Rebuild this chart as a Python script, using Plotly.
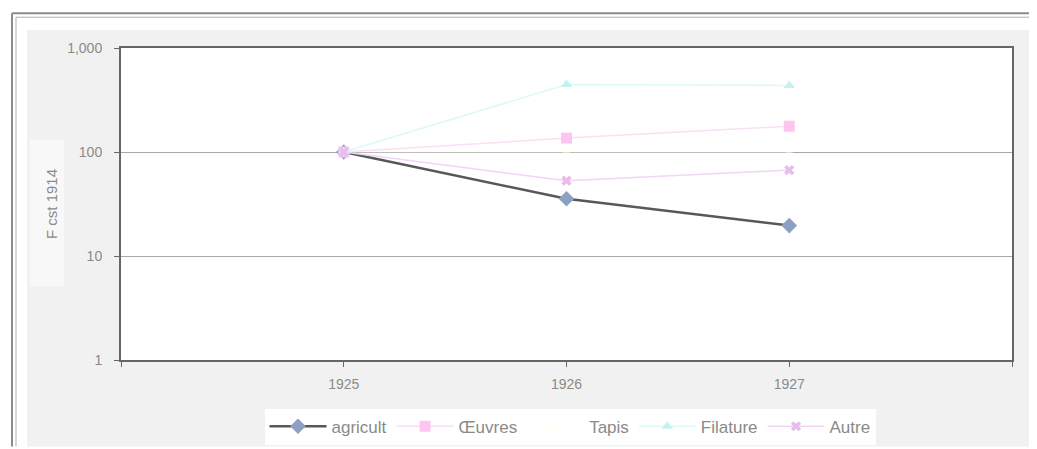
import plotly.graph_objects as go

years = [1925, 1926, 1927]
agricult = [100, 35.5, 19.6]
oeuvres = [100, 136, 177]
tapis = [100, 100, 100]
filature = [100, 446, 437]
autre = [100, 53, 67]

x_ticks = [1924, 1925, 1926, 1927, 1928]
x_ticktext = ["", "1925", "1926", "1927", ""]
y_ticks = [1, 10, 100, 1000]

font_family = "Liberation Sans, Arial, sans-serif"
grey_text = "#8a8a8a"

# plot area in page pixels: x 121..1012, y 48..362
def px(x):
    return (x - 121) / 891.0

def py(y):
    return (362 - y) / 314.0

fig = go.Figure()
fig.add_trace(go.Scatter(x=years, y=agricult, name="agricult", mode="lines+markers",
                         line=dict(color="#585858", width=2.5),
                         marker=dict(symbol="diamond", size=12, color="#8e9fc4")))
fig.add_trace(go.Scatter(x=years, y=oeuvres, name="Œuvres", mode="lines+markers",
                         line=dict(color="#f9e0f4", width=1.5),
                         marker=dict(symbol="square", size=11, color="#fcc6f1")))
fig.add_trace(go.Scatter(x=years, y=tapis, name="Tapis", mode="lines+markers",
                         line=dict(color="rgba(255,255,235,0.5)", width=1),
                         marker=dict(symbol="triangle-up", size=8, color="rgba(255,255,230,0.5)")))
fig.add_trace(go.Scatter(x=years, y=filature, name="Filature", mode="lines+markers",
                         line=dict(color="#dcf9f9", width=1.5),
                         marker=dict(symbol="triangle-up", size=10, color="#c2f2f2")))
fig.add_trace(go.Scatter(x=years, y=autre, name="Autre", mode="lines+markers",
                         line=dict(color="#f0d6f3", width=1.5),
                         marker=dict(symbol="x", size=9, color="#e8bced")))

fig.update_layout(
    width=1037, height=449,
    margin=dict(l=113, r=33, t=40, b=95),
    paper_bgcolor="#ffffff",
    plot_bgcolor="#ffffff",
    font=dict(family=font_family, size=13, color=grey_text),
    showlegend=True,
    legend=dict(orientation="h", x=px(570), xanchor="center", y=py(411), yanchor="top",
                bgcolor="#ffffff", font=dict(size=17, color=grey_text),
                itemwidth=57, tracegroupgap=0),
    xaxis=dict(range=[1924, 1928], tickvals=x_ticks, ticktext=x_ticktext,
               showgrid=False, ticks="outside", ticklen=5, tickcolor="#666",
               ticklabelstandoff=5,
               showline=True, linecolor="#666", linewidth=2, mirror=True,
               zeroline=False, tickfont=dict(size=14, color=grey_text)),
    yaxis=dict(type="log", range=[0, 3], tickvals=y_ticks, tickformat=",",
               showgrid=True, gridcolor="#a8a8a8", gridwidth=1,
               ticks="outside", ticklen=5, tickcolor="#666",
               ticklabelstandoff=9,
               showline=True, linecolor="#666", linewidth=2, mirror=True,
               zeroline=False, tickfont=dict(size=14, color=grey_text),
               title=dict(text="F cst 1914", standoff=6, font=dict(size=15, color=grey_text))),
    shapes=[
        # dotted-grey chart area
        dict(type="rect", xref="paper", yref="paper", layer="below",
             x0=px(27), x1=px(1040), y0=py(449), y1=py(30),
             line=dict(width=0), fillcolor="#f1f1f1"),
        # white plot area on top of the grey area
        dict(type="rect", xref="paper", yref="paper", layer="below",
             x0=0, x1=1, y0=0, y1=1,
             line=dict(width=0), fillcolor="#ffffff"),
        # lighter box behind axis title
        dict(type="rect", xref="paper", yref="paper", layer="below",
             x0=px(30), x1=px(64), y0=py(288), y1=py(140),
             line=dict(width=0), fillcolor="#f8f8f8"),
        # outer double frame (left and top)
        dict(type="line", xref="paper", yref="paper", layer="below",
             x0=px(12), x1=px(12), y0=py(449), y1=py(13),
             line=dict(color="#8c8c8c", width=2)),
        dict(type="line", xref="paper", yref="paper", layer="below",
             x0=px(16), x1=px(16), y0=py(449), y1=py(17),
             line=dict(color="#b0b0b0", width=1)),
        dict(type="line", xref="paper", yref="paper", layer="below",
             x0=px(12), x1=px(1040), y0=py(13), y1=py(13),
             line=dict(color="#8c8c8c", width=2)),
        dict(type="line", xref="paper", yref="paper", layer="below",
             x0=px(16), x1=px(1040), y0=py(17), y1=py(17),
             line=dict(color="#b0b0b0", width=1)),
    ],
)

fig.write_html("out.html")
